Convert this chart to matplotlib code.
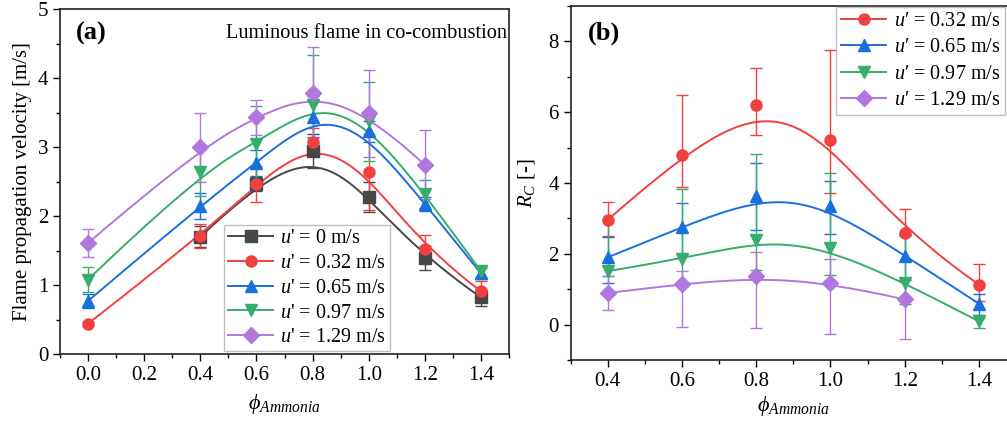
import matplotlib
matplotlib.use('Agg')
import matplotlib.pyplot as plt
import numpy as np
from matplotlib.ticker import MultipleLocator, FormatStrFormatter

plt.rcParams['font.family'] = 'Liberation Serif'
plt.rcParams['mathtext.fontset'] = 'custom'
plt.rcParams['mathtext.rm'] = 'Liberation Serif'
plt.rcParams['mathtext.it'] = 'Liberation Serif:italic'
plt.rcParams['mathtext.bf'] = 'Liberation Serif:bold'

# ---- panel (a): flame propagation velocity ----
phi_a = [0.0, 0.4, 0.6, 0.8, 1.0, 1.2, 1.4]
labels_a = ['0', '0.32', '0.65', '0.97', '1.29']
# None = no measurement
v_0 = [None, 1.70, 2.46, 2.94, 2.28, 1.39, 0.82]
v_032 = [0.44, 1.71, 2.47, 3.07, 2.64, 1.52, 0.91]
v_065 = [0.77, 2.15, 2.77, 3.44, 3.23, 2.17, 1.17]
v_097 = [1.08, 2.64, 3.05, 3.61, 3.37, 2.32, 1.20]
v_129 = [1.61, 3.00, 3.43, 3.79, 3.49, 2.74, None]
e_0 = [0, 0.15, 0.10, 0.25, 0.22, 0.17, 0.12]
e_032 = [0.03, 0.17, 0.26, 0.20, 0.55, 0.20, 0.15]
e_065 = [0.10, 0.19, 0.19, 0.30, 0.15, 0.10, 0.08]
e_097 = [0.18, 0.35, 0.55, 0.72, 0.57, 0.20, 0.08]
e_129 = [0.20, 0.50, 0.25, 0.66, 0.63, 0.50, 0]

# ---- panel (b): R_C ----
phi_b = [0.4, 0.6, 0.8, 1.0, 1.2, 1.4]
labels_b = ['0.32', '0.65', '0.97', '1.29']
rc_032 = [2.96, 4.79, 6.21, 5.22, 2.59, 1.13]
rc_065 = [1.90, 2.75, 3.64, 3.36, 1.95, 0.59]
rc_097 = [1.51, 1.85, 2.40, 2.16, 1.18, 0.09]
rc_129 = [0.89, 1.15, 1.36, 1.18, 0.71, None]
lo_032 = [0.45, 0.90, 0.85, 1.50, 0.05, 0.47]
up_032 = [0.50, 1.70, 1.04, 2.54, 0.68, 0.58]
lo_065 = [0.74, 0.75, 0.96, 0.80, 0.68, 0.31]
up_065 = [0.58, 0.67, 0.92, 0.69, 0.59, 0.26]
lo_097 = [0.15, 0.75, 0.85, 0.75, 0.60, 0.18]
up_097 = [1.45, 1.99, 2.43, 2.12, 1.32, 0.10]
lo_129 = [0.47, 1.23, 1.45, 1.46, 1.13, 0]
up_129 = [0.49, 0.36, 0.69, 0.66, 0.55, 0]

colors = ['#474747', '#f14040', '#1a6fdf', '#37ad6b', '#b177de']
markers = ['s', 'o', '^', 'v', 'D']


def bspline(x, y, num=300):
    # clamped cubic B-spline using the data points as control points
    P = np.column_stack([x, y])
    n = len(P)
    k = min(3, n - 1)
    knots = np.concatenate([np.zeros(k), np.arange(n - k + 1), np.full(k, n - k)])
    t = np.linspace(0, n - k, num)
    t[-1] -= 1e-9
    N = np.zeros((num, len(knots) - 1))
    for i in range(len(knots) - 1):
        N[:, i] = (t >= knots[i]) & (t < knots[i + 1])
    for d in range(1, k + 1):
        for i in range(len(knots) - 1 - d):
            a = knots[i + d] - knots[i]
            b = knots[i + d + 1] - knots[i + 1]
            left = (t - knots[i]) / a * N[:, i] if a > 0 else 0
            right = (knots[i + d + 1] - t) / b * N[:, i + 1] if b > 0 else 0
            N[:, i] = left + right
    C = N[:, :n] @ P
    return C[:, 0], C[:, 1]


def draw(ax, phi, vals, lo, up, col, mk, lab):
    x = np.array([p for p, v in zip(phi, vals) if v is not None])
    y = np.array([v for v in vals if v is not None])
    el = np.array([e for e, v in zip(lo, vals) if v is not None])
    eu = np.array([e for e, v in zip(up, vals) if v is not None])
    ax.errorbar(x, y, yerr=[el, eu], fmt='none', ecolor=col, elinewidth=1.0,
                capsize=4.5, capthick=1.0, zorder=2)
    xs, ys = bspline(x, y)
    ax.plot(xs, ys, color=col, lw=1.4, zorder=3)
    ax.plot(x, y, ls='none', marker=mk, ms=8, color=col, zorder=4)
    # legend proxy
    ax.plot([], [], color=col, lw=1.4, marker=mk, ms=8, label=lab)


fig = plt.figure(figsize=(10.07, 4.23), dpi=100)
ax1 = fig.add_axes([0.0596, 0.163, 0.4459, 0.8157])
ax2 = fig.add_axes([0.5667, 0.149, 0.4423, 0.837])

vals_a = [v_0, v_032, v_065, v_097, v_129]
errs_a = [e_0, e_032, e_065, e_097, e_129]
for k in range(5):
    draw(ax1, phi_a, vals_a[k], errs_a[k], errs_a[k], colors[k], markers[k],
         r"$u$' = " + labels_a[k] + ' m/s')

vals_b = [rc_032, rc_065, rc_097, rc_129]
lo_b = [lo_032, lo_065, lo_097, lo_129]
up_b = [up_032, up_065, up_097, up_129]
for k in range(4):
    draw(ax2, phi_b, vals_b[k], lo_b[k], up_b[k], colors[k + 1], markers[k + 1],
         "$u$\u2032 = " + labels_b[k] + ' m/s')

ax1.set_xlim(-0.1, 1.5)
ax1.set_ylim(0, 5)
ax1.xaxis.set_major_locator(MultipleLocator(0.2))
ax1.xaxis.set_minor_locator(MultipleLocator(0.1))
ax1.yaxis.set_major_locator(MultipleLocator(1))
ax1.yaxis.set_minor_locator(MultipleLocator(0.5))
ax1.xaxis.set_major_formatter(FormatStrFormatter('%.1f'))
ax1.set_ylabel('Flame propagation velocity [m/s]', fontsize=15, labelpad=4)
ax1.set_xlabel(r'$\phi_{Ammonia}$', fontsize=16, labelpad=5)
ax1.text(0.035, 0.93, '(a)', transform=ax1.transAxes, fontsize=19,
         fontweight='bold', va='center')
ax1.text(0.995, 0.93, 'Luminous flame in co-combustion', transform=ax1.transAxes,
         fontsize=14.7, ha='right', va='center')
leg1 = ax1.legend(loc='lower left', bbox_to_anchor=(0.365, 0.008), fontsize=14.5,
                  handlelength=2.25, handletextpad=0.35, labelspacing=0.28,
                  borderpad=0.2, borderaxespad=0, fancybox=False)
leg1.get_frame().set_edgecolor('#b0b0b0')
leg1.get_frame().set_linewidth(1.0)

ax2.set_xlim(0.3, 1.5)
ax2.set_ylim(-1, 9)
ax2.xaxis.set_major_locator(MultipleLocator(0.2))
ax2.xaxis.set_minor_locator(MultipleLocator(0.1))
ax2.yaxis.set_minor_locator(MultipleLocator(1))
ax2.xaxis.set_major_formatter(FormatStrFormatter('%.1f'))
ax2.set_yticks([0, 2, 4, 6, 8])
ax2.set_ylabel(r'$R_C$ [-]', fontsize=15, labelpad=8)
ax2.set_xlabel(r'$\phi_{Ammonia}$', fontsize=16, labelpad=2)
ax2.text(0.039, 0.924, '(b)', transform=ax2.transAxes, fontsize=19,
         fontweight='bold', va='center')
leg2 = ax2.legend(loc='upper left', bbox_to_anchor=(0.596, 0.997), fontsize=14.5,
                  handlelength=2.25, handletextpad=0.35, labelspacing=0.36,
                  borderpad=0.25, borderaxespad=0, fancybox=False)
leg2.get_frame().set_edgecolor('#b0b0b0')
leg2.get_frame().set_linewidth(1.0)

for ax in (ax1, ax2):
    ax.tick_params(which='major', direction='out', length=5, width=1, labelsize=15)
    ax.tick_params(which='minor', direction='out', length=3, width=1)
    for s in ax.spines.values():
        s.set_linewidth(1.2)
        s.set_color('#222222')

fig.savefig('out.png', dpi=100)
